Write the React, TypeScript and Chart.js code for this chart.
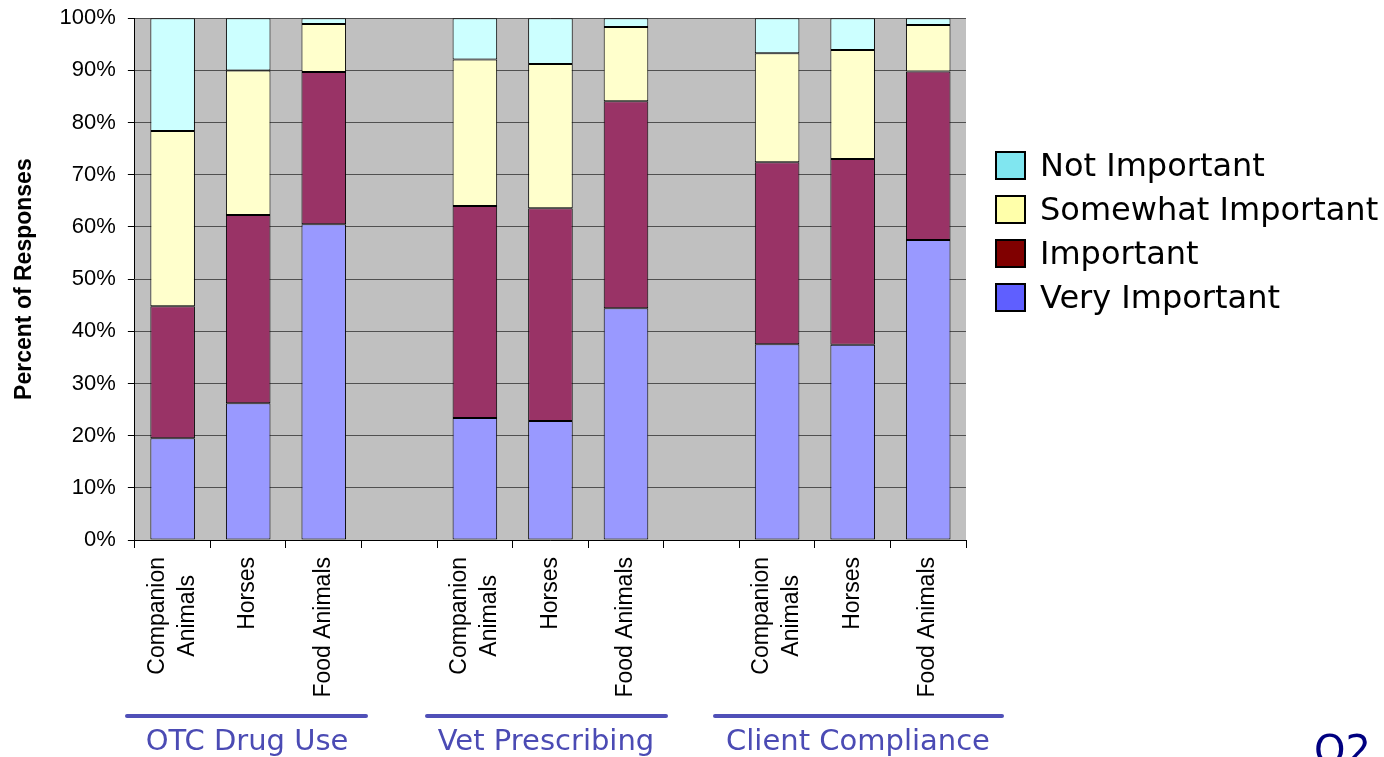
import React, { useEffect, useRef } from 'react';
import { Chart, registerables } from 'chart.js';

Chart.register(...registerables);

// Categories: three survey areas, each split by animal type, with empty gap slots between them
const categories: (string | string[])[] = [
  ['Companion', 'Animals'], 'Horses', 'Food Animals', '',
  ['Companion', 'Animals'], 'Horses', 'Food Animals', '',
  ['Companion', 'Animals'], 'Horses', 'Food Animals',
];

// Percent of responses per rating (stacked bottom to top)
const veryImportant = [19.5, 26.2, 60.5, null, 23.4, 22.8, 44.4, null, 37.5, 37.4, 57.5];
const important = [25.3, 36.1, 29.2, null, 40.6, 40.8, 39.7, null, 34.9, 35.6, 32.3];
const somewhatImportant = [33.6, 27.7, 9.2, null, 28.1, 27.6, 14.2, null, 20.9, 20.9, 8.9];
const notImportant = [21.6, 10.0, 1.1, null, 7.9, 8.8, 1.7, null, 6.7, 6.1, 1.3];

const seriesNames = ['Very Important', 'Important', 'Somewhat Important', 'Not Important'];
const seriesValues = [veryImportant, important, somewhatImportant, notImportant];
const barColors = ['#9999FF', '#993366', '#FFFFCC', '#CCFFFF'];
const legendColors = ['#5F5FFF', '#800000', '#FFFFAA', '#80E6F0'];

const groupNames = ['OTC Drug Use', 'Vet Prescribing', 'Client Compliance'];

const AXIS_FONT = '"Liberation Sans", Arial, sans-serif';

// The canvas sits slightly above the page top so the plot can start close to it
const CANVAS_SHIFT = 7;

const plotBackground = {
  id: 'plotBackground',
  beforeDraw(chart: Chart) {
    const { ctx, chartArea } = chart;
    ctx.save();
    ctx.fillStyle = '#C0C0C0';
    ctx.fillRect(chartArea.left, chartArea.top, chartArea.right - chartArea.left, chartArea.bottom - chartArea.top);
    ctx.restore();
  },
};

// Vertical category labels: read bottom-to-top, ending just under the axis,
// with the lines of a two-line label centred on each other
const verticalCategoryLabels = {
  id: 'verticalCategoryLabels',
  afterDraw(chart: Chart) {
    const { ctx, chartArea } = chart;
    const xScale = chart.scales.x;
    const fontSize = 23;
    const lineGap = 30;
    const capHeight = fontSize * 0.716;
    const top = chartArea.bottom + 17;
    ctx.save();
    ctx.font = `${fontSize}px ${AXIS_FONT}`;
    ctx.fillStyle = '#000000';
    ctx.textAlign = 'center';
    ctx.textBaseline = 'alphabetic';
    categories.forEach((label, i) => {
      const lines = Array.isArray(label) ? label : [label];
      if (!lines.join('')) return;
      const widest = Math.max(...lines.map((l) => ctx.measureText(l).width));
      const x = xScale.getPixelForValue(i);
      ctx.save();
      ctx.translate(x, top);
      ctx.rotate(-Math.PI / 2);
      lines.forEach((line, k) => {
        const offset = (k - (lines.length - 1) / 2) * lineGap + capHeight / 2 - 2;
        ctx.fillText(line, -widest / 2, offset);
      });
      ctx.restore();
    });
    ctx.restore();
  },
};

export default function App() {
  const canvasRef = useRef<HTMLCanvasElement | null>(null);

  useEffect(() => {
    if (!canvasRef.current) return;
    const chart = new Chart(canvasRef.current, {
      type: 'bar',
      data: {
        labels: categories,
        datasets: seriesValues.map((values, i) => ({
          label: seriesNames[i],
          data: values,
          backgroundColor: barColors[i],
          borderColor: '#000000',
          borderWidth: 1,
          borderSkipped: false,
          categoryPercentage: 1,
          barPercentage: 0.59,
        })),
      },
      options: {
        responsive: false,
        animation: false,
        layout: { padding: { left: 11, right: 418, top: 11, bottom: 209 } },
        plugins: {
          legend: { display: false },
          tooltip: { enabled: false },
        },
        scales: {
          x: {
            stacked: true,
            offset: true,
            grid: {
              display: true,
              offset: true,
              drawOnChartArea: false,
              drawTicks: true,
              tickLength: 8,
              color: '#000000',
            },
            border: { display: true, color: '#000000', width: 1 },
            ticks: { display: false, autoSkip: false },
          },
          y: {
            stacked: true,
            min: 0,
            max: 100,
            grid: {
              color: '#505050',
              lineWidth: 1,
              drawTicks: true,
              tickLength: 7,
              tickColor: '#000000',
            },
            border: { display: true, color: '#000000', width: 1 },
            ticks: {
              stepSize: 10,
              padding: 12,
              color: '#000000',
              font: { family: AXIS_FONT, size: 22 },
              callback: (v: any) => `${v}%`,
            },
            title: {
              display: true,
              text: 'Percent of Responses',
              color: '#000000',
              font: { family: AXIS_FONT, size: 23, weight: 'bold' },
              padding: { top: 0, bottom: 9 },
            },
          },
        },
      },
      plugins: [plotBackground, verticalCategoryLabels],
    });
    return () => chart.destroy();
  }, []);

  const legendOrder = [3, 2, 1, 0];
  const groupLines = [
    { left: 125, right: 368, center: 247 },
    { left: 425, right: 668, center: 546 },
    { left: 713, right: 1004, center: 858 },
  ];

  return (
    <div style={{ position: 'fixed', left: 0, top: 0, width: 1384, height: 757, overflow: 'hidden', background: '#ffffff' }}>
      <canvas
        ref={canvasRef}
        width={1384}
        height={757 + CANVAS_SHIFT}
        style={{ position: 'absolute', left: 0, top: -CANVAS_SHIFT }}
      />
      {legendOrder.map((idx, row) => (
        <div
          key={seriesNames[idx]}
          style={{
            position: 'absolute',
            left: 995,
            top: 143 + row * 44,
            height: 44,
            display: 'flex',
            alignItems: 'center',
            fontFamily: '"DejaVu Sans", Verdana, sans-serif',
            fontSize: 32,
            color: '#000000',
            whiteSpace: 'nowrap',
          }}
        >
          <div
            style={{
              width: 31,
              height: 29,
              boxSizing: 'border-box',
              border: '2px solid #000000',
              background: legendColors[idx],
              marginRight: 14,
            }}
          />
          <span>{seriesNames[idx]}</span>
        </div>
      ))}
      {groupNames.map((name, i) => (
        <React.Fragment key={name}>
          <div
            style={{
              position: 'absolute',
              left: groupLines[i].left,
              top: 714,
              width: groupLines[i].right - groupLines[i].left,
              height: 4,
              borderRadius: 2,
              background: '#5050B8',
            }}
          />
          <div
            style={{
              position: 'absolute',
              left: groupLines[i].center - 200,
              width: 400,
              top: 720,
              height: 40,
              lineHeight: '40px',
              textAlign: 'center',
              fontFamily: '"DejaVu Sans", Verdana, sans-serif',
              fontSize: 29,
              color: '#4B4BB4',
              whiteSpace: 'nowrap',
            }}
          >
            {name}
          </div>
        </React.Fragment>
      ))}
      <div
        style={{
          position: 'absolute',
          left: 1314,
          top: 726,
          lineHeight: '48px',
          fontFamily: '"DejaVu Sans", Verdana, sans-serif',
          fontSize: 40,
          color: '#000080',
        }}
      >
        Q2
      </div>
    </div>
  );
}
